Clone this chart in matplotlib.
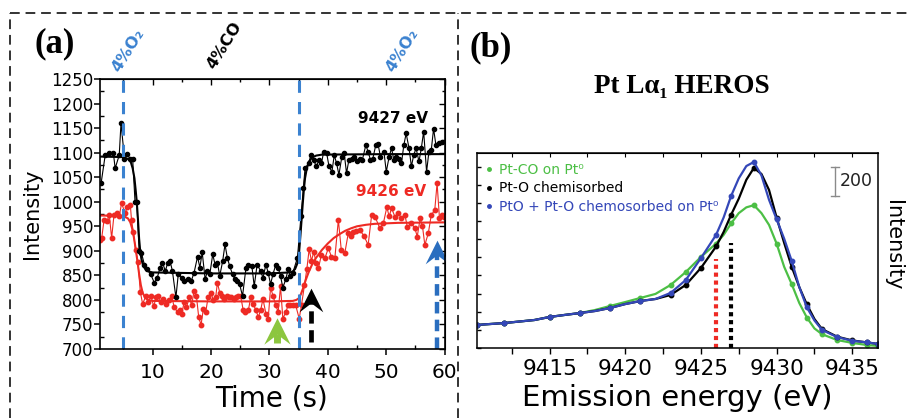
import matplotlib.pyplot as plt
from matplotlib.lines import Line2D
from matplotlib.path import Path
from matplotlib.ticker import MultipleLocator, NullFormatter

plt.rcParams['font.family'] = ['DejaVu Sans']

# ---- panel (a): time-resolved intensity at two emission energies ----
t_9427 = [1.2, 1.9, 2.6, 3.3, 3.6, 4.3, 4.6, 5.2, 5.7, 6.1, 6.6, 7.0, 7.3, 7.7, 8.1,
          8.6, 9.1, 9.7, 10.3, 10.8, 11.3, 11.7, 12.2, 12.6, 13.0, 13.4, 14.0, 14.4,
          15.0, 15.4, 16.0, 16.6, 17.1, 17.7, 18.1, 18.5, 19.0, 19.4, 19.8, 20.3,
          20.7, 21.1, 21.5, 22.0, 22.4, 22.8, 23.2, 23.7, 24.1, 24.5, 24.9, 25.4,
          26.0, 26.4, 27.0, 27.4, 27.9, 28.5, 28.9, 29.4, 29.8, 30.2, 30.6, 31.1,
          31.5, 31.9, 32.3, 32.8, 33.2, 33.6, 34.0, 34.8, 35.4, 35.8, 36.1, 36.7,
          37.1, 37.6, 38.0, 38.5, 38.9, 39.3, 39.8, 40.2, 40.7, 41.1, 41.5, 41.9,
          42.4, 42.8, 43.2, 43.6, 44.1, 44.5, 45.0, 45.5, 45.9, 46.5, 46.9, 47.3,
          47.7, 48.2, 48.6, 49.0, 49.6, 50.0, 50.5, 50.9, 51.3, 51.7, 52.2, 52.6,
          53.0, 53.4, 53.9, 54.3, 54.7, 55.1, 55.6, 56.0, 56.4, 56.9, 57.3, 57.7,
          58.1, 58.5, 59.0, 59.5]
i_9427 = [1038, 1095, 1100, 1099, 1068, 1095, 1160, 1088, 1097, 1088, 1087, 1000, 1000,
          900, 896, 872, 862, 852, 835, 845, 866, 876, 859, 876, 879, 859, 805, 852,
          845, 838, 842, 838, 855, 888, 866, 897, 842, 859, 852, 893, 872, 876, 849,
          879, 913, 886, 869, 852, 842, 838, 832, 808, 866, 872, 869, 828, 872, 859,
          845, 872, 855, 832, 852, 872, 866, 849, 825, 842, 862, 849, 855, 886, 970,
          1028, 1068, 1078, 1095, 1085, 1072, 1085, 1078, 1102, 1099, 1072, 1061,
          1095, 1078, 1055, 1092, 1099, 1058, 1085, 1088, 1092, 1082, 1088, 1085,
          1115, 1102, 1085, 1088, 1115, 1117, 1092, 1102, 1061, 1092, 1109, 1085,
          1092, 1088, 1078, 1115, 1139, 1109, 1072, 1095, 1109, 1082, 1109, 1143,
          1061, 1102, 1105, 1149, 1115, 1119, 1122]

t_9426 = [1.05, 1.3, 1.7, 2.2, 2.6, 3.0, 3.4, 3.9, 4.3, 4.7, 5.3, 5.7, 6.2, 6.4, 6.7,
          7.1, 7.5, 7.9, 8.3, 8.9, 9.3, 9.7, 10.2, 10.6, 11.0, 11.4, 11.8, 12.3,
          12.8, 13.3, 13.7, 14.3, 14.7, 15.0, 15.4, 15.8, 16.3, 16.7, 17.1, 17.5,
          17.9, 18.3, 18.7, 19.1, 19.5, 20.0, 20.4, 20.8, 21.1, 21.5, 21.9, 22.3,
          22.7, 23.1, 23.5, 23.9, 24.3, 24.7, 25.1, 25.5, 25.9, 26.4, 26.8, 27.2,
          27.7, 28.1, 28.5, 28.9, 29.4, 29.8, 30.2, 30.6, 31.1, 31.5, 31.9, 32.3,
          32.8, 33.2, 33.6, 34.0, 34.5, 35.1, 35.5, 36.0, 36.4, 36.8, 37.2, 37.6,
          38.0, 38.4, 38.9, 39.5, 40.1, 40.6, 41.2, 41.8, 42.3, 42.9, 43.5, 44.0,
          44.3, 44.9, 45.5, 46.2, 46.9, 47.5, 48.1, 48.9, 49.5, 50.1, 50.5, 50.9,
          51.5, 52.0, 52.6, 53.2, 53.6, 54.3, 54.9, 55.3, 55.8, 56.2, 56.6, 57.2,
          57.7, 58.3, 58.7, 59.1, 59.5, 59.8]
i_9426 = [923, 926, 963, 960, 973, 926, 973, 977, 970, 997, 977, 990, 993, 963, 939,
          902, 878, 817, 792, 809, 795, 809, 787, 805, 809, 795, 802, 791, 799, 807,
          785, 775, 779, 772, 795, 785, 805, 789, 819, 809, 765, 749, 782, 775, 805,
          815, 799, 805, 835, 815, 809, 802, 809, 805, 805, 802, 805, 809, 807, 780,
          775, 779, 805, 792, 779, 765, 779, 802, 772, 762, 825, 809, 789, 775, 828,
          762, 775, 789, 789, 789, 789, 762, 790, 830, 862, 903, 880, 898, 875, 865,
          892, 885, 906, 888, 885, 963, 902, 895, 936, 930, 939, 940, 942, 930, 912,
          973, 969, 946, 956, 989, 970, 987, 969, 977, 967, 973, 949, 956, 946, 929,
          966, 950, 912, 936, 973, 983, 1038, 967, 972, 969]

# fitted step curves
fit_t_9427 = [1, 5, 6.0, 6.3, 6.6, 6.9, 7.1, 7.3, 7.5, 7.7, 7.9, 8.1, 8.4, 8.8, 9.3, 10,
              20, 30, 33.5, 34.0, 34.4, 34.8, 35.1, 35.3, 35.5, 35.7, 35.9, 36.1,
              36.4, 36.8, 37.3, 38.0, 39.0, 50, 60]
fit_9427 = [1092, 1091, 1086, 1080, 1068, 1048, 1025, 1000, 965, 925, 898, 883, 870,
            862, 858, 856, 854, 854, 856, 858, 863, 875, 900, 930, 962, 995, 1025,
            1048, 1068, 1082, 1090, 1094, 1096, 1097, 1097]
fit_t_9426 = [1, 5, 5.8, 6.2, 6.5, 6.8, 7.1, 7.4, 7.7, 8.0, 8.3, 8.7, 9.2, 10, 20, 30,
              34, 34.6, 35.0, 35.4, 35.8, 36.2, 36.7, 37.3, 38, 39, 40, 41, 42, 43,
              44, 45, 46.5, 48, 52, 60]
fit_9426 = [972, 971, 966, 958, 946, 928, 905, 880, 853, 830, 815, 805, 800, 798, 797,
            797, 798, 800, 803, 812, 825, 840, 856, 872, 886, 902, 915, 926, 934, 941,
            946, 950, 953, 955, 957, 958]

gas_switch_t = [5, 35]
gas_labels = ['4%O\u2082', '4%CO', '4%O\u2082']

# arrows: time, start, tip intensity
arrow_t = [31.3, 37.2, 58.6]
arrow_base = [712, 714, 700]
arrow_tip = [763, 824, 922]

# ---- panel (b): Pt La1 HEROS spectra ----
energy = [9410.2, 9412, 9414, 9415, 9416, 9417, 9418, 9419, 9420, 9421, 9422, 9423,
          9424, 9425, 9426, 9426.5, 9427, 9427.5, 9428, 9428.5, 9429, 9429.5, 9430,
          9430.5, 9431, 9431.5, 9432, 9432.5, 9433, 9434, 9435, 9436, 9436.7]
pt_co = [159, 172, 193, 214, 228, 241, 262, 290, 317, 345, 373, 435, 524, 628, 720,
         780, 860, 930, 970, 985, 930, 849, 720, 560, 440, 310, 210, 135, 95, 55, 35,
         20, 14]
pt_o = [159, 172, 193, 214, 228, 241, 255, 276, 303, 324, 338, 366, 435, 552, 700,
        800, 920, 1030, 1160, 1242, 1200, 1090, 900, 725, 560, 420, 300, 200, 130, 78,
        52, 38, 28]
pto = [159, 172, 193, 214, 228, 241, 255, 276, 303, 324, 338, 380, 469, 620, 780,
       900, 1050, 1170, 1255, 1283, 1190, 1022, 888, 754, 600, 420, 280, 190, 125, 75,
       50, 38, 28]
spec_labels = ['Pt-CO on Pt\u2070', 'Pt-O chemisorbed', 'PtO + Pt-O chemosorbed on Pt\u2070']
spec_colors = ['#4cbf45', 'black', '#3447b8']
marker_idx = [0, 1, 3, 5, 7, 9, 11, 12, 13, 14, 16, 19, 22, 24, 26, 28, 29, 30, 31, 32]
probe_energies = [9426, 9427]
probe_tops = [614, 725]
probe_colors = ['#ee2a24', 'black']

RED = '#ee2a24'
BLUE = '#3b82d0'

# notched arrow head used as a marker
head = Path([(0, 0.5), (0.5, -0.5), (0, -0.12), (-0.5, -0.5), (0, 0.5)],
            [Path.MOVETO, Path.LINETO, Path.LINETO, Path.LINETO, Path.CLOSEPOLY])

fig = plt.figure(figsize=(9.12, 4.18), dpi=100)

# dashed panel frames
frame = dict(color='#333333', lw=1.4, ls=(0, (5, 3)))
fig.add_artist(Line2D([0.011, 0.995], [0.969, 0.969], **frame))
fig.add_artist(Line2D([0.011, 0.011], [0.0, 0.969], **frame))
fig.add_artist(Line2D([0.502, 0.502], [0.0, 0.969], **frame))

# ---------------- panel (a) ----------------
ax = fig.add_axes([0.1096, 0.165, 0.378, 0.646])
ax.plot(t_9426, i_9426, '-o', color=RED, lw=0.8, ms=3.2)
ax.plot(fit_t_9426, fit_9426, '-', color=RED, lw=1.5)
ax.plot(t_9427, i_9427, '-o', color='black', lw=0.8, ms=3.0)
ax.plot(fit_t_9427, fit_9427, '-', color='black', lw=1.5)
for ts in gas_switch_t:
    ax.axvline(ts, color=BLUE, lw=2.2, ls=(0, (4, 3)))

arrow_colors = ['#8cc63f', 'black', '#2a6ebf']
arrow_ls = ['-', (0, (2.6, 1.4)), (0, (2.6, 1.4))]
arrow_lw = [5, 3.4, 3.2]
arrow_ms = [19, 17, 17]
for t, b, tip, c, ls, lw, ms in zip(arrow_t, arrow_base, arrow_tip, arrow_colors,
                                    arrow_ls, arrow_lw, arrow_ms):
    hh = ms / 72 * 100 / 0.491   # head height in data units
    ax.plot([t, t], [b, tip - 0.6 * hh], color=c, lw=lw, ls=ls, solid_capstyle='butt',
            dash_capstyle='butt')
    ax.plot([t], [tip - hh / 2], marker=head, ms=ms, color=c, mew=0, ls='none')

ax.text(57.1, 1170, '9427 eV', color='black', fontsize=11, fontweight='bold',
        ha='right', va='center')
ax.text(56.9, 1020, '9426 eV', color=RED, fontsize=11, fontweight='bold',
        ha='right', va='center')

ax.set_xlim(1, 60)
ax.set_ylim(700, 1250)
ax.xaxis.set_major_locator(MultipleLocator(10))
ax.xaxis.set_minor_locator(MultipleLocator(5))
ax.yaxis.set_major_locator(MultipleLocator(50))
ax.yaxis.set_minor_locator(MultipleLocator(25))
ax.tick_params(axis='x', which='major', direction='out', length=4, width=1.1, labelsize=14.5, pad=6)
ax.tick_params(axis='x', which='minor', direction='in', length=3, width=1)
ax.tick_params(axis='y', which='major', direction='out', length=4, width=1.1, labelsize=12, pad=1)
ax.tick_params(axis='y', which='minor', direction='in', length=3, width=1)
for side in ['top', 'right']:
    sec = ax.secondary_xaxis('top') if side == 'top' else ax.secondary_yaxis('right')
    axis = sec.xaxis if side == 'top' else sec.yaxis
    axis.set_major_locator(MultipleLocator(10 if side == 'top' else 50))
    axis.set_minor_locator(MultipleLocator(5 if side == 'top' else 25))
    axis.set_major_formatter(NullFormatter())
    sec.tick_params(which='major', direction='in', length=4, width=1)
    sec.tick_params(which='minor', direction='in', length=2.5, width=1)
for s in ax.spines.values():
    s.set_linewidth(1.2)

fig.text(32 / 912, 1 - 214 / 418, 'Intensity', rotation=90, fontsize=15,
         ha='center', va='center')
fig.text(272 / 912, 1 - 398 / 418, 'Time (s)', fontsize=20, ha='center', va='center')

# gas composition labels
fig.text(128 / 912, 1 - 50 / 418, gas_labels[0], color=BLUE, fontsize=11.5,
         fontweight='bold', rotation=58, ha='center', va='center')
fig.text(224 / 912, 1 - 45 / 418, gas_labels[1], color='black', fontsize=11.5,
         fontweight='bold', rotation=58, ha='center', va='center')
fig.text(402 / 912, 1 - 50 / 418, gas_labels[2], color=BLUE, fontsize=11.5,
         fontweight='bold', rotation=58, ha='center', va='center')

serif = ['Liberation Serif', 'DejaVu Serif']
fig.text(55 / 912, 1 - 44 / 418, '(a)', fontsize=25, fontweight='bold', family=serif,
         ha='center', va='center')

# ---------------- panel (b) ----------------
bx = fig.add_axes([0.523, 0.1675, 0.4397, 0.4665])
for ys, c in zip([pt_co, pt_o, pto], spec_colors):
    bx.plot(energy, ys, '-', color=c, lw=1.6)
    bx.plot([energy[k] for k in marker_idx], [ys[k] for k in marker_idx], 'o',
            color=c, ms=3.2)
for e, top, c in zip(probe_energies, probe_tops, probe_colors):
    bx.plot([e, e], [0, top], color=c, lw=3, ls=(0, (1, 0.9)))

# 200-count scale bar
bx.plot([9433.85, 9433.85], [1049, 1249], color='#8a8a8a', lw=1)
bx.plot([9433.6, 9434.1], [1249, 1249], color='#8a8a8a', lw=1)
bx.plot([9433.6, 9434.1], [1049, 1049], color='#8a8a8a', lw=1)
bx.text(9434.2, 1152, '200', fontsize=12.5, color='#222222', ha='left', va='center')

handles = [Line2D([], [], ls='none', marker='o', ms=2.5, color=c) for c in spec_colors]
bx.legend(handles, spec_labels, loc='upper left', frameon=False, fontsize=10,
          labelcolor=spec_colors, handlelength=0.4, handletextpad=0.45,
          borderaxespad=0.5, labelspacing=0.34, borderpad=0.2)

bx.set_xlim(9410.2, 9436.7)
bx.set_ylim(0, 1345)
bx.xaxis.set_major_locator(MultipleLocator(5))
bx.xaxis.set_minor_locator(MultipleLocator(2.5))
bx.yaxis.set_major_locator(MultipleLocator(125))
bx.yaxis.set_major_formatter(NullFormatter())
bx.tick_params(axis='x', which='both', direction='out', length=4, width=1, labelsize=15.5, pad=4)
bx.tick_params(axis='y', which='both', direction='in', length=3, width=1)
sec = bx.secondary_xaxis('top')
sec.xaxis.set_major_locator(MultipleLocator(2.5))
sec.xaxis.set_major_formatter(NullFormatter())
sec.tick_params(direction='in', length=3, width=0.8)
for s in bx.spines.values():
    s.set_linewidth(1.1)

fig.text(682 / 912, 1 - 87 / 418, 'Pt L\u03b1\u2081 HEROS', fontsize=19.5, fontweight='bold',
         family=serif, ha='center', va='center')
fig.text(491 / 912, 1 - 48 / 418, '(b)', fontsize=25, fontweight='bold', family=serif,
         ha='center', va='center')
fig.text(893 / 912, 1 - 245 / 418, 'Intensity', rotation=270, fontsize=15,
         ha='center', va='center')
fig.text(677 / 912, 1 - 398 / 418, 'Emission energy (eV)', fontsize=21, ha='center',
         va='center')

fig.savefig('out.png', dpi=100)
